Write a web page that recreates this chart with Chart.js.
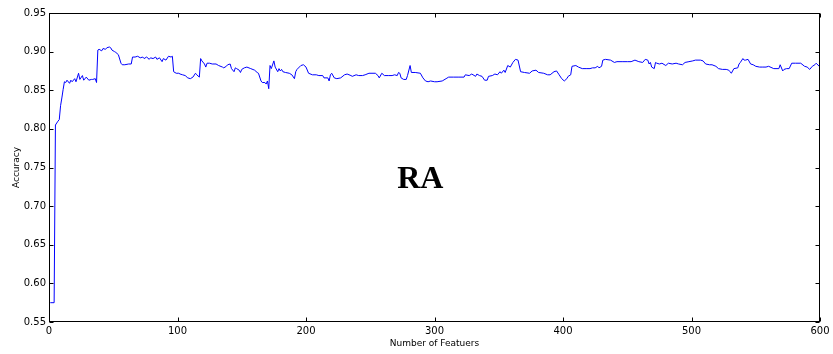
<!DOCTYPE html>
<html>
<head>
<meta charset="utf-8">
<script src="https://cdn.jsdelivr.net/npm/chart.js@4/dist/chart.umd.min.js"></script>
<style>
  html, body { margin: 0; padding: 0; background: #fff; }
  #wrap { width: 833px; height: 354px; position: relative; }
</style>
</head>
<body>
<div id="wrap"><canvas id="chart"></canvas></div>
<script>
// Number of selected features and the accuracy reached with them
const features = [
  1, 4, 5, 7, 8, 9, 10, 11, 12, 13, 14, 16, 17, 18, 20, 21, 23, 24, 26, 27, 29, 31, 33, 34, 36, 37,
  38, 39, 41, 42, 44, 45, 47, 48, 49, 51, 52, 54, 56, 57, 59, 62, 64, 65, 67, 69, 71, 73, 74, 76,
  78, 79, 81, 83, 84, 86, 88, 89, 91, 93, 95, 96, 97, 99, 101, 102, 104, 106, 108, 110, 112, 114,
  115, 117, 118, 119, 121, 122, 123, 125, 127, 130, 132, 135, 136, 138, 139, 141, 142, 144, 145,
  146, 148, 149, 150, 152, 154, 157, 160, 162, 163, 165, 166, 168, 169, 170, 171, 172, 173, 175,
  176, 178, 179, 180, 181, 182, 184, 187, 189, 191, 192, 193, 196, 198, 200, 202, 205, 208, 210,
  213, 214, 217, 218, 219, 220, 222, 224, 227, 230, 232, 235, 236, 239, 241, 244, 246, 249, 254,
  256, 257, 259, 261, 264, 267, 269, 271, 272, 273, 274, 276, 278, 279, 281, 282, 285, 289, 291,
  293, 295, 297, 300, 302, 306, 309, 311, 315, 319, 323, 324, 327, 329, 332, 333, 335, 337, 339,
  341, 342, 345, 347, 349, 351, 352, 354, 355, 357, 359, 361, 363, 365, 367, 370, 374, 376, 379,
  381, 385, 388, 390, 393, 395, 397, 399, 401, 403, 404, 406, 407, 410, 412, 415, 418, 421, 423,
  425, 427, 428, 430, 431, 433, 437, 440, 442, 446, 450, 453, 456, 459, 462, 464, 466, 467, 468,
  469, 471, 472, 473, 475, 477, 480, 482, 485, 488, 490, 493, 495, 498, 501, 503, 507, 509, 511,
  514, 516, 519, 521, 524, 527, 529, 530, 531, 533, 536, 537, 538, 540, 541, 542, 544, 546, 548,
  550, 553, 555, 558, 560, 564, 568, 569, 571, 572, 574, 576, 578, 581, 585, 588, 590, 592, 594,
  596, 597, 600
];
const accuracy = [
  0.575, 0.575, 0.805, 0.810, 0.812, 0.830, 0.840, 0.851, 0.861, 0.860, 0.863, 0.859, 0.863, 0.861,
  0.865, 0.861, 0.872, 0.864, 0.869, 0.863, 0.867, 0.863, 0.864, 0.864, 0.865, 0.860,
  0.902, 0.903, 0.901, 0.904, 0.903, 0.905, 0.906, 0.905, 0.902, 0.900, 0.899, 0.896, 0.885, 0.883,
  0.883, 0.884, 0.884, 0.893, 0.893, 0.894, 0.892, 0.893, 0.891, 0.893,
  0.890, 0.892, 0.891, 0.893, 0.890, 0.892, 0.887, 0.891, 0.889, 0.894, 0.893, 0.894, 0.874, 0.872,
  0.872, 0.871, 0.870, 0.869, 0.866, 0.865, 0.867, 0.872,
  0.870, 0.867, 0.891, 0.888, 0.884, 0.880, 0.885, 0.885, 0.884, 0.884, 0.882, 0.880, 0.879, 0.881,
  0.883, 0.884, 0.878, 0.874, 0.879,
  0.878, 0.876, 0.873, 0.877, 0.879, 0.880, 0.878, 0.876, 0.873, 0.872, 0.862, 0.860, 0.860, 0.858,
  0.862, 0.852, 0.882, 0.878, 0.888,
  0.880, 0.874, 0.878, 0.875, 0.877, 0.874, 0.873, 0.872, 0.870, 0.865, 0.874, 0.877, 0.882, 0.883,
  0.880, 0.872, 0.870, 0.870, 0.869,
  0.869, 0.866, 0.866, 0.862, 0.870, 0.872, 0.866, 0.865, 0.866, 0.870, 0.871, 0.869, 0.868, 0.870,
  0.869, 0.869, 0.870, 0.872, 0.872,
  0.869, 0.866, 0.872, 0.869, 0.869, 0.869, 0.870, 0.869, 0.873, 0.872, 0.866, 0.864, 0.864, 0.869,
  0.882, 0.873, 0.873, 0.872, 0.866,
  0.862, 0.861, 0.862, 0.861, 0.861, 0.862, 0.865, 0.867, 0.867, 0.867, 0.867, 0.870, 0.869, 0.871,
  0.868, 0.871, 0.869, 0.868, 0.863,
  0.863, 0.868, 0.869, 0.871, 0.870, 0.874, 0.872, 0.876, 0.873, 0.882, 0.880, 0.886, 0.890, 0.889,
  0.874, 0.873, 0.872, 0.875, 0.876,
  0.873, 0.872, 0.870, 0.870, 0.874, 0.875, 0.870, 0.865, 0.862, 0.865, 0.868, 0.870, 0.881, 0.882,
  0.880, 0.878, 0.878, 0.878, 0.879,
  0.879, 0.881, 0.879, 0.881, 0.889, 0.890, 0.889, 0.886, 0.887, 0.887, 0.887, 0.887, 0.889, 0.887,
  0.886, 0.890, 0.889, 0.884, 0.886,
  0.880, 0.878, 0.886, 0.885, 0.884, 0.885, 0.882, 0.885, 0.884, 0.885, 0.884, 0.883, 0.886, 0.887,
  0.888, 0.889, 0.889, 0.888, 0.884,
  0.883, 0.883, 0.881, 0.878, 0.877, 0.877, 0.876, 0.874, 0.872, 0.878, 0.879, 0.884, 0.886, 0.891,
  0.889, 0.889, 0.890, 0.884, 0.883,
  0.881, 0.880, 0.880, 0.880, 0.881, 0.878, 0.878, 0.883, 0.875, 0.877, 0.878, 0.878, 0.885, 0.885,
  0.885, 0.881, 0.880, 0.877, 0.881,
  0.883, 0.885, 0.880
];

// Axis ticks
const xTicks = [0, 100, 200, 300, 400, 500, 600];
const yTicks = [0.55, 0.60, 0.65, 0.70, 0.75, 0.80, 0.85, 0.90, 0.95];

const TICK_FONT = { family: '"DejaVu Sans"', size: 10 };
const TITLE_FONT = { family: '"DejaVu Sans"', size: 9 };

// Plot frame with short inward tick marks on all four sides, plus the "RA" caption
const frameAndMarks = {
  id: 'frameAndMarks',
  afterDatasetsDraw(chart) {
    const { ctx, chartArea: a, scales: { x, y } } = chart;
    const L = Math.round(a.left) + 0.5, R = Math.round(a.right) - 0.5;
    const T = Math.round(a.top) + 0.5, B = Math.round(a.bottom) - 0.5;
    const len = 4;
    ctx.save();
    ctx.strokeStyle = '#000';
    ctx.lineWidth = 1;
    ctx.strokeRect(L, T, R - L, B - T);
    ctx.beginPath();
    xTicks.forEach(v => {
      const px = Math.round(x.getPixelForValue(v)) + 0.5;
      ctx.moveTo(px, B); ctx.lineTo(px, B - len);
      ctx.moveTo(px, T); ctx.lineTo(px, T + len);
    });
    yTicks.forEach(v => {
      const py = Math.round(y.getPixelForValue(v)) + 0.5;
      ctx.moveTo(L, py); ctx.lineTo(L + len, py);
      ctx.moveTo(R, py); ctx.lineTo(R - len, py);
    });
    ctx.stroke();

    ctx.fillStyle = '#000';
    ctx.font = 'bold 32px "Liberation Serif"';
    ctx.textAlign = 'center';
    ctx.textBaseline = 'middle';
    ctx.fillText('RA', x.getPixelForValue(289), y.getPixelForValue(0.734));
    ctx.restore();
  }
};

new Chart(document.getElementById('chart'), {
  type: 'line',
  data: {
    datasets: [{
      data: features.map((f, i) => ({ x: f, y: accuracy[i] })),
      borderColor: '#0000ff',
      borderWidth: 1,
      pointRadius: 0,
      tension: 0,
      fill: false
    }]
  },
  options: {
    responsive: true,
    maintainAspectRatio: false,
    animation: false,
    layout: { padding: { top: 13, right: 13, left: 0, bottom: 0 } },
    plugins: { legend: { display: false }, tooltip: { enabled: false } },
    scales: {
      x: {
        type: 'linear',
        min: 0,
        max: 600,
        grid: { display: false, drawTicks: false },
        border: { display: false },
        afterBuildTicks(scale) { scale.ticks = xTicks.map(v => ({ value: v })); },
        afterFit(scale) { scale.height = 32; },
        ticks: { color: '#000', font: TICK_FONT, padding: 3, maxRotation: 0, autoSkip: false },
        title: { display: true, text: 'Number of Featuers', color: '#000', font: TITLE_FONT, padding: { top: 0, bottom: 5 } }
      },
      y: {
        type: 'linear',
        min: 0.55,
        max: 0.95,
        grid: { display: false, drawTicks: false },
        border: { display: false },
        afterBuildTicks(scale) { scale.ticks = yTicks.map(v => ({ value: v })); },
        afterFit(scale) { scale.width = 49; },
        ticks: { color: '#000', font: TICK_FONT, padding: 3, autoSkip: false, callback: v => Number(v).toFixed(2) },
        title: { display: true, text: 'Accuracy', color: '#000', font: TITLE_FONT, padding: { top: 11, bottom: 0 } }
      }
    }
  },
  plugins: [frameAndMarks]
});
</script>
</body>
</html>
